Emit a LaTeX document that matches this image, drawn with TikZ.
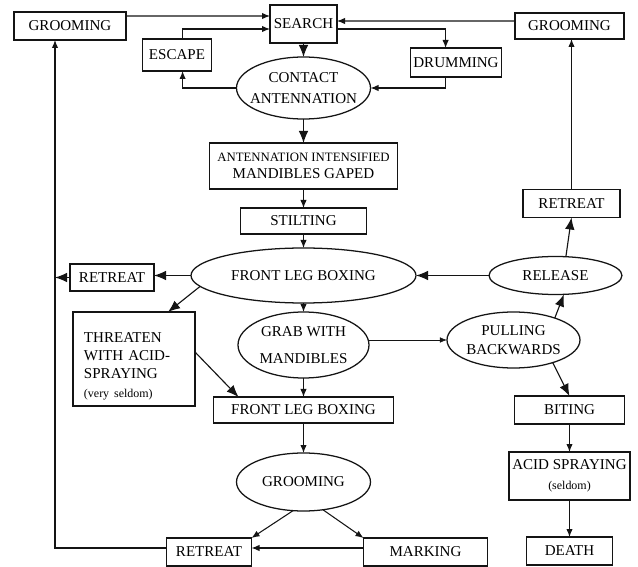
\documentclass[tikz,border=0pt]{standalone}
\usepackage{fontspec}
\setmainfont{Liberation Serif}
\usepackage{tikz}
\usepackage{xcolor}
\usetikzlibrary{arrows.meta,positioning,shapes.geometric}
\definecolor{ink}{HTML}{141414}
\newcommand{\antnote}[1]{{\fontsize{8.5}{10}\selectfont #1}}
\tikzset{
  actbox/.style={
    draw=ink,
    line width=0.9pt,
    rectangle,
    align=center,
    inner sep=0.3mm,
    outer sep=0pt,
    font=\fontsize{10.7}{13}\selectfont
  },
  actoval/.style={
    draw=ink,
    line width=0.9pt,
    ellipse,
    align=center,
    inner xsep=-5mm,
    inner ysep=-2mm,
    outer sep=0pt,
    font=\fontsize{10.7}{13}\selectfont
  },
  flowarrow/.style={-{Latex[length=2mm,width=1.6mm]}, line width=0.75pt, draw=ink},
  bigarrow/.style={-{Latex[length=3mm,width=2.4mm]}, line width=0.8pt, draw=ink},
  thinarrow/.style={-{Latex[length=1.8mm,width=1.4mm]}, line width=0.45pt, draw=ink}
}

\begin{document}
\begin{tikzpicture}[node distance=4mm and 10mm]
\fill[white] (0,0) rectangle (159.5mm,-141.75mm);
\useasboundingbox (0,0) rectangle (159.5mm,-141.75mm);

% centre column
\node[actbox, minimum width=16.75mm, minimum height=9.5mm] (search) at (75.875mm,-6mm) {SEARCH};
\node[actoval, below=3.5mm of search, minimum width=33.5mm, minimum height=15.5mm] (contact) {CONTACT\\[2pt]ANTENNATION};
\node[actbox, below=6mm of contact, minimum width=47mm, minimum height=11.5mm] (intens) {{\fontsize{9.1}{10}\selectfont ANTENNATION INTENSIFIED}\\[-1pt]MANDIBLES GAPED};
\node[actbox, below=4.75mm of intens, minimum width=31.5mm, minimum height=6.5mm] (stilt) {STILTING};
\node[actoval, below=3.5mm of stilt, minimum width=56.25mm, minimum height=13.75mm] (boxing) {FRONT LEG BOXING};
\node[actoval, below=2.25mm of boxing, minimum width=32.75mm, minimum height=16.5mm] (grab) {GRAB WITH\\[6pt]MANDIBLES};
\node[actbox, below=4.75mm of grab, minimum width=45mm, minimum height=6.5mm] (boxing2) {FRONT LEG BOXING};
\node[actoval, below=7.5mm of boxing2, minimum width=33.5mm, minimum height=14.5mm] (groomoval) {GROOMING};

% top row
\node[actbox, left=36mm of search, yshift=-0.5mm, minimum width=28mm, minimum height=7mm] (groomleft) {GROOMING};
\node[actbox, right=44.5mm of search, yshift=-0.5mm, minimum width=27.25mm, minimum height=6.5mm] (groomright) {GROOMING};
\node[actbox, left=6.25mm of contact, yshift=8.25mm, minimum width=17.25mm, minimum height=8mm] (escape) {ESCAPE};
\node[actbox, right=10mm of contact, yshift=6.375mm, minimum width=22.75mm, minimum height=7.25mm] (drumming) {DRUMMING};

% sides of the boxing
\node[actbox, left=9.25mm of boxing, yshift=-0.5mm, minimum width=21mm, minimum height=6.75mm] (retreatL) {RETREAT};
\node[actoval, right=18.25mm of boxing, minimum width=33.25mm, minimum height=9.5mm] (release) {RELEASE};
\node[actbox, above=9.75mm of release, xshift=4mm, minimum width=24.25mm, minimum height=7mm] (retreatR) {RETREAT};
\node[actbox, left=10.75mm of grab, yshift=-3.5mm, text width=25mm, align=left, inner xsep=2.75mm, minimum height=23.5mm] (threaten) {\rule{0pt}{17pt}THREATEN\\WITH ACID-\\SPRAYING\\\antnote{(very seldom)}};
\node[actoval, right=19.5mm of grab, yshift=1.25mm, minimum width=33.25mm, minimum height=14mm] (pulling) {PULLING\\[1pt]BACKWARDS};

% right column
\node[actbox, right=30.25mm of boxing2, minimum width=27.5mm, minimum height=7mm] (biting) {BITING};
\node[actbox, below=7mm of biting, minimum width=30.25mm, minimum height=12mm] (acid) {ACID SPRAYING\\[1pt]\antnote{(seldom)}};
\node[actbox, below=9.25mm of acid, minimum width=21.5mm, minimum height=7mm] (death) {DEATH};

% bottom row
\node[actbox, below=6.75mm of groomoval, xshift=-23.625mm, minimum width=21.25mm, minimum height=7mm] (retreatB) {RETREAT};
\node[actbox, right=28mm of retreatB, minimum width=31mm, minimum height=7mm] (marking) {MARKING};

\coordinate (backline) at ([xshift=-3.75mm]groomleft.south);

% top connectors
\draw[flowarrow] ([yshift=2.5mm]groomleft.east) -- ([yshift=2mm]search.west);
\draw[flowarrow] ([xshift=1.4mm]escape.north) |- ([yshift=-1.25mm]search.west);
\draw[flowarrow] (contact.west) -| ([xshift=1.4mm]escape.south);
\draw[flowarrow] ([yshift=1.25mm]groomright.west) -- ([yshift=0.75mm]search.east);
\draw[flowarrow] ([yshift=-1.25mm]search.east) -| ([xshift=-2.6mm]drumming.north);
\draw[flowarrow] ([xshift=-2.6mm]drumming.south) |- (contact.east);

% centre column
\draw[bigarrow] (search) -- (contact);
\draw[bigarrow] (contact) -- (intens);
\draw[flowarrow] (intens) -- (stilt);
\draw[flowarrow] (stilt) -- (boxing);
\draw[flowarrow] (boxing) -- (grab);
\draw[flowarrow] (grab) -- (boxing2);
\draw[flowarrow] (boxing2) -- (groomoval);

% left side
\draw[bigarrow] (boxing.west) -- (boxing.west -| retreatL.east);
\draw[bigarrow] (retreatL.west) -- (retreatL.west -| backline);
\draw[flowarrow] ([yshift=1mm]retreatB.west) -| (backline);
\draw[bigarrow] (boxing.186) -- ([xshift=8.5mm]threaten.north);
\draw[bigarrow] ([yshift=1.75mm]threaten.east) -- ([xshift=-16.25mm]boxing2.north);

% right side
\draw[thinarrow] ([yshift=1.25mm]grab.east) -- (pulling.west);
\draw[bigarrow] (pulling.28) -- ([xshift=2.1mm]release.south);
\draw[bigarrow] (pulling.330) -- (biting.north);
\draw[bigarrow] (release.west) -- (boxing.east);
\draw[bigarrow] ([xshift=2.6mm]release.north) -- (retreatR.south);
\draw[flowarrow] (retreatR.north) -- (retreatR.north |- groomright.south);
\draw[flowarrow] (biting) -- (acid);
\draw[flowarrow] (acid) -- (death);

% bottom
\draw[flowarrow] (groomoval.250) -- (retreatB.north east);
\draw[flowarrow] (groomoval.305) -- (marking.north west);
\draw[flowarrow] ([yshift=1mm]marking.west) -- ([yshift=1mm]retreatB.east);
\end{tikzpicture}
\end{document}
